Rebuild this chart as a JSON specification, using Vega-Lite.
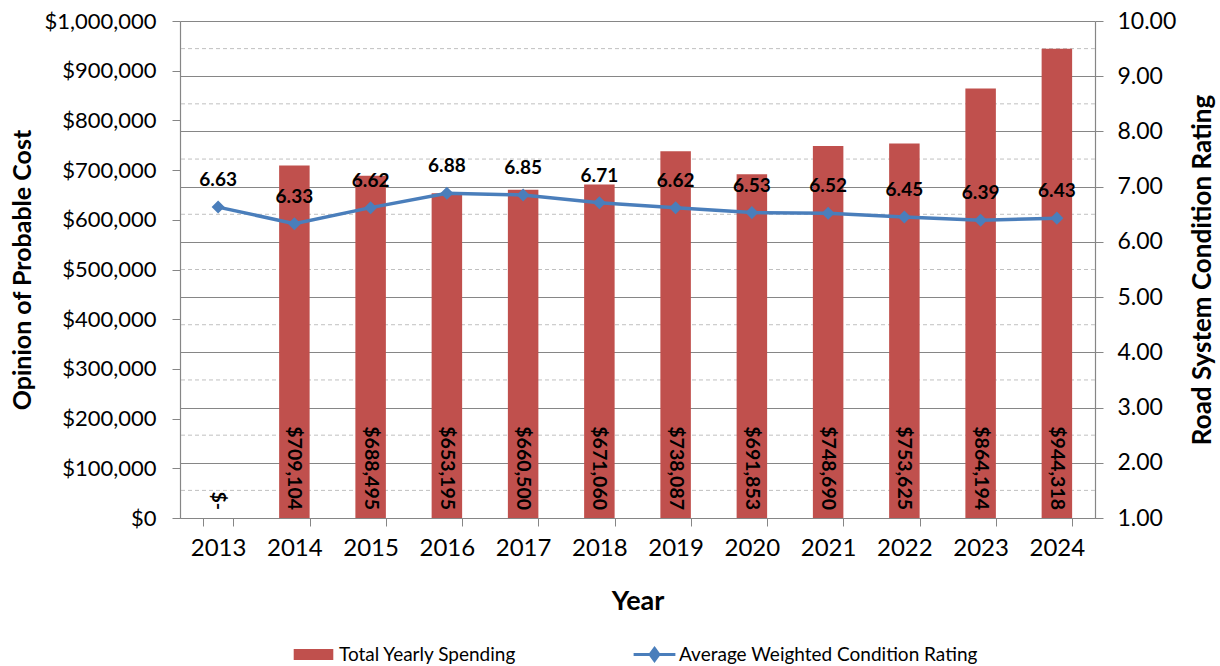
{
  "$schema": "https://vega.github.io/schema/vega-lite/v6.json",
  "width": 915,
  "height": 497,
  "autosize": {"type": "none"},
  "padding": {"left": 180, "top": 21, "right": 125, "bottom": 148},
  "config": {
    "font": "Lato",
    "view": {"stroke": null},
    "axis": {"domainColor": "#868686", "tickColor": "#868686", "labelColor": "#000000", "titleColor": "#000000", "domainWidth": 1.2}
  },
  "data": {
    "values": [
      {"year": "2013", "spending": 0, "rating": 6.63},
      {"year": "2014", "spending": 709104, "rating": 6.33},
      {"year": "2015", "spending": 688495, "rating": 6.62},
      {"year": "2016", "spending": 653195, "rating": 6.88},
      {"year": "2017", "spending": 660500, "rating": 6.85},
      {"year": "2018", "spending": 671060, "rating": 6.71},
      {"year": "2019", "spending": 738087, "rating": 6.62},
      {"year": "2020", "spending": 691853, "rating": 6.53},
      {"year": "2021", "spending": 748690, "rating": 6.52},
      {"year": "2022", "spending": 753625, "rating": 6.45},
      {"year": "2023", "spending": 864194, "rating": 6.39},
      {"year": "2024", "spending": 944318, "rating": 6.43}
    ]
  },
  "layer": [
    {
      "data": {"values": [{"m": 1.5}, {"m": 2.5}, {"m": 3.5}, {"m": 4.5}, {"m": 5.5}, {"m": 6.5}, {"m": 7.5}, {"m": 8.5}, {"m": 9.5}]},
      "mark": {"type": "rule", "color": "#c0c0c0", "strokeDash": [4, 3], "strokeWidth": 1},
      "encoding": {
        "y": {"field": "m", "type": "quantitative", "scale": {"domain": [1, 10]}, "axis": null}
      }
    },
    {
      "mark": {"type": "bar"},
      "encoding": {
        "x": {
          "field": "year", "type": "ordinal",
          "scale": {"paddingInner": 0.6, "paddingOuter": 0.3},
          "axis": {"title": "Year", "labelAngle": 0, "tickBand": "extent", "tickSize": 8, "labelFontSize": 24, "labelPadding": 10, "titleFontSize": 27, "titleFontWeight": "bold", "titlePadding": 28}
        },
        "y": {
          "field": "spending", "type": "quantitative",
          "scale": {"domain": [0, 1000000]},
          "axis": {"orient": "left", "values": [0, 100000, 200000, 300000, 400000, 500000, 600000, 700000, 800000, 900000, 1000000], "format": "$,.0f", "grid": false, "tickSize": 8, "labelFontSize": 22, "labelPadding": 16, "title": "Opinion of Probable Cost", "titleFontSize": 25, "titleFontWeight": "bold", "titlePadding": 8}
        },
        "color": {
          "datum": "Total Yearly Spending",
          "scale": {"range": ["#C0504D"]},
          "legend": {"title": null, "orient": "none", "legendX": 124, "legendY": 624, "symbolType": "M-3.6,-1H3.6V1H-3.6Z", "symbolSize": 121, "symbolStrokeWidth": 0, "labelFontSize": 19, "labelOffset": 16, "labelLimit": 400}
        }
      }
    },
    {
      "mark": {"type": "line", "strokeWidth": 3.5, "point": {"shape": "diamond", "size": 170, "filled": true}},
      "encoding": {
        "x": {"field": "year", "type": "ordinal"},
        "y": {
          "field": "rating", "type": "quantitative",
          "scale": {"domain": [1, 10]},
          "axis": {"orient": "right", "values": [1, 2, 3, 4, 5, 6, 7, 8, 9, 10], "format": ".2f", "grid": true, "gridColor": "#868686", "gridWidth": 1, "tickSize": 8, "labelFontSize": 23, "labelPadding": 14, "title": "Road System Condition Rating", "titleAngle": 270, "titleFontSize": 26, "titleFontWeight": "bold", "titlePadding": 40}
        },
        "color": {
          "datum": "Average Weighted Condition Rating",
          "scale": {"range": ["#4A7EBB"]},
          "legend": {"title": null, "orient": "none", "legendX": 465, "legendY": 624, "symbolType": "M-3.8,0H3.8M0,-1.1L0.8,0L0,1.1L-0.8,0Z", "symbolSize": 121, "symbolStrokeWidth": 3, "symbolFillColor": "#4A7EBB", "symbolStrokeColor": "#4A7EBB", "labelFontSize": 19, "labelOffset": 15, "labelLimit": 500}
        }
      }
    },
    {
      "mark": {"type": "text", "fontWeight": "bold", "fontSize": 19, "baseline": "alphabetic", "dy": -21, "color": "#000000"},
      "encoding": {
        "x": {"field": "year", "type": "ordinal"},
        "y": {"field": "rating", "type": "quantitative", "scale": {"domain": [1, 10]}, "axis": null},
        "text": {"field": "rating", "type": "quantitative", "format": ".2f"}
      }
    },
    {
      "transform": [{"calculate": "datum.spending == 0 ? '$-' : format(datum.spending, '$,.0f')", "as": "label"}],
      "mark": {"type": "text", "fontWeight": "bold", "fontSize": 19.5, "angle": 90, "align": "right", "baseline": "middle", "dx": -8, "color": "#000000"},
      "encoding": {
        "x": {"field": "year", "type": "ordinal"},
        "y": {"datum": 0, "type": "quantitative", "scale": {"domain": [0, 1000000]}, "axis": null},
        "text": {"field": "label", "type": "nominal"}
      }
    }
  ],
  "resolve": {"scale": {"y": "independent", "color": "independent"}}
}
